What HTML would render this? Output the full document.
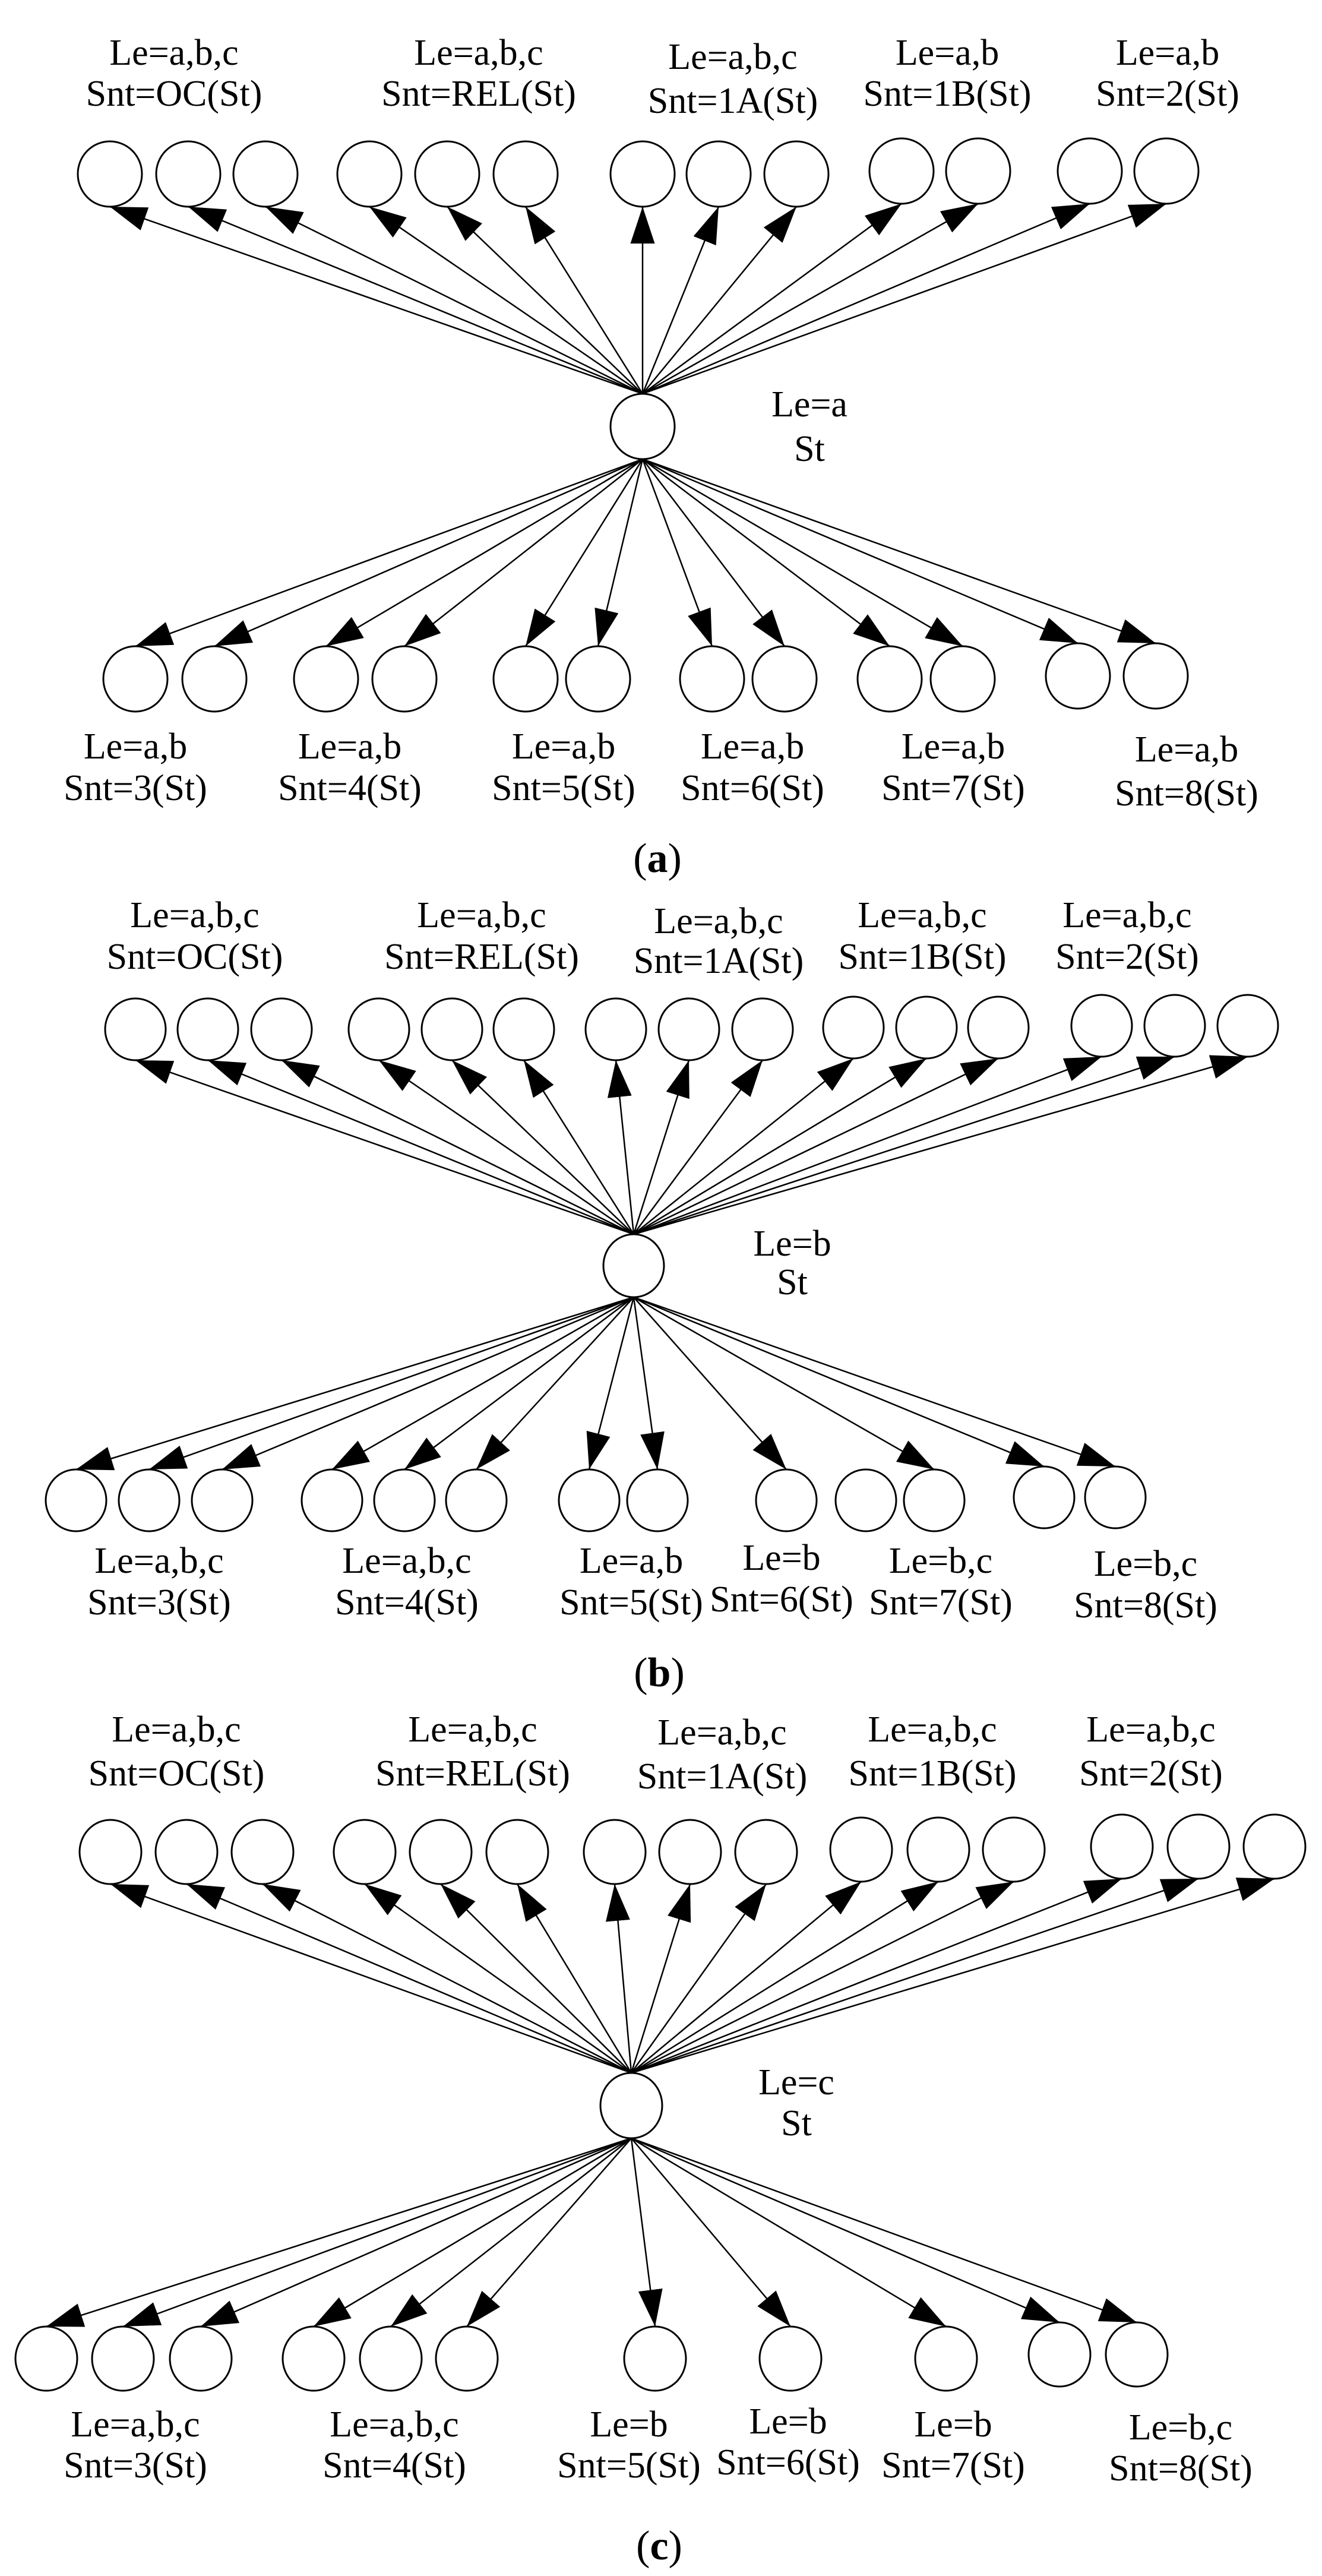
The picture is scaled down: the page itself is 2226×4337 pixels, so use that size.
<!DOCTYPE html>
<html><head><meta charset="utf-8"><style>
html,body{margin:0;padding:0;background:#fff;}
svg{display:block;}
text{font-family:"Liberation Serif",serif;font-size:62px;fill:#000;text-anchor:middle;}
</style></head><body>
<svg width="2226" height="4337" viewBox="0 0 2226 4337" xmlns="http://www.w3.org/2000/svg">
<defs>
<marker id="ar" markerUnits="userSpaceOnUse" markerWidth="64" markerHeight="42" refX="62" refY="20.5" orient="auto">
<path d="M0,0 L62,20.5 L0,41 z" fill="#000"/>
</marker>
</defs>
<g fill="#fff" stroke="#000" stroke-width="3">
<!-- panel a -->
<ellipse cx="185" cy="293" rx="54" ry="55"/><ellipse cx="317" cy="293" rx="54" ry="55"/><ellipse cx="447" cy="293" rx="54" ry="55"/>
<ellipse cx="622" cy="293" rx="54" ry="55"/><ellipse cx="753" cy="293" rx="54" ry="55"/><ellipse cx="885" cy="293" rx="54" ry="55"/>
<ellipse cx="1082" cy="293" rx="54" ry="55"/><ellipse cx="1210" cy="293" rx="54" ry="55"/><ellipse cx="1341" cy="293" rx="54" ry="55"/>
<ellipse cx="1518" cy="288" rx="54" ry="55"/><ellipse cx="1647" cy="288" rx="54" ry="55"/>
<ellipse cx="1835" cy="288" rx="54" ry="55"/><ellipse cx="1964" cy="288" rx="54" ry="55"/>
<ellipse cx="1082" cy="718" rx="54" ry="55"/>
<ellipse cx="228" cy="1143" rx="54" ry="55"/><ellipse cx="361" cy="1143" rx="54" ry="55"/>
<ellipse cx="549" cy="1143" rx="54" ry="55"/><ellipse cx="681" cy="1143" rx="54" ry="55"/>
<ellipse cx="885" cy="1143" rx="54" ry="55"/><ellipse cx="1007" cy="1143" rx="54" ry="55"/>
<ellipse cx="1199" cy="1143" rx="54" ry="55"/><ellipse cx="1321" cy="1143" rx="54" ry="55"/>
<ellipse cx="1498" cy="1143" rx="54" ry="55"/><ellipse cx="1621" cy="1143" rx="54" ry="55"/>
<ellipse cx="1815" cy="1138" rx="54" ry="55"/><ellipse cx="1946" cy="1138" rx="54" ry="55"/>
<!-- panel b -->
<ellipse cx="228" cy="1733" rx="51" ry="52"/><ellipse cx="350" cy="1733" rx="51" ry="52"/><ellipse cx="474" cy="1733" rx="51" ry="52"/>
<ellipse cx="638" cy="1733" rx="51" ry="52"/><ellipse cx="761" cy="1733" rx="51" ry="52"/><ellipse cx="882" cy="1733" rx="51" ry="52"/>
<ellipse cx="1037" cy="1733" rx="51" ry="52"/><ellipse cx="1160" cy="1733" rx="51" ry="52"/><ellipse cx="1284" cy="1733" rx="51" ry="52"/>
<ellipse cx="1437" cy="1730" rx="51" ry="52"/><ellipse cx="1560" cy="1730" rx="51" ry="52"/><ellipse cx="1681" cy="1730" rx="51" ry="52"/>
<ellipse cx="1855" cy="1727" rx="51" ry="52"/><ellipse cx="1978" cy="1727" rx="51" ry="52"/><ellipse cx="2101" cy="1727" rx="51" ry="52"/>
<ellipse cx="1067" cy="2131" rx="51" ry="53"/>
<ellipse cx="128" cy="2526" rx="51" ry="52"/><ellipse cx="251" cy="2526" rx="51" ry="52"/><ellipse cx="374" cy="2526" rx="51" ry="52"/>
<ellipse cx="559" cy="2526" rx="51" ry="52"/><ellipse cx="681" cy="2526" rx="51" ry="52"/><ellipse cx="802" cy="2526" rx="51" ry="52"/>
<ellipse cx="992" cy="2526" rx="51" ry="52"/><ellipse cx="1107" cy="2526" rx="51" ry="52"/>
<ellipse cx="1324" cy="2526" rx="51" ry="52"/>
<ellipse cx="1458" cy="2526" rx="51" ry="52"/><ellipse cx="1573" cy="2526" rx="51" ry="52"/>
<ellipse cx="1758" cy="2521" rx="51" ry="52"/><ellipse cx="1878" cy="2521" rx="51" ry="52"/>
<!-- panel c -->
<ellipse cx="186" cy="3118" rx="52" ry="54"/><ellipse cx="314" cy="3118" rx="52" ry="54"/><ellipse cx="442" cy="3118" rx="52" ry="54"/>
<ellipse cx="614" cy="3118" rx="52" ry="54"/><ellipse cx="742" cy="3118" rx="52" ry="54"/><ellipse cx="871" cy="3118" rx="52" ry="54"/>
<ellipse cx="1035" cy="3118" rx="52" ry="54"/><ellipse cx="1162" cy="3118" rx="52" ry="54"/><ellipse cx="1290" cy="3118" rx="52" ry="54"/>
<ellipse cx="1450" cy="3114" rx="52" ry="54"/><ellipse cx="1580" cy="3114" rx="52" ry="54"/><ellipse cx="1707" cy="3114" rx="52" ry="54"/>
<ellipse cx="1889" cy="3109" rx="52" ry="54"/><ellipse cx="2018" cy="3109" rx="52" ry="54"/><ellipse cx="2146" cy="3109" rx="52" ry="54"/>
<ellipse cx="1063" cy="3545" rx="52" ry="55"/>
<ellipse cx="78" cy="3971" rx="52" ry="54"/><ellipse cx="207" cy="3971" rx="52" ry="54"/><ellipse cx="338" cy="3971" rx="52" ry="54"/>
<ellipse cx="528" cy="3971" rx="52" ry="54"/><ellipse cx="658" cy="3971" rx="52" ry="54"/><ellipse cx="786" cy="3971" rx="52" ry="54"/>
<ellipse cx="1103" cy="3971" rx="52" ry="54"/><ellipse cx="1331" cy="3971" rx="52" ry="54"/><ellipse cx="1593" cy="3971" rx="52" ry="54"/>
<ellipse cx="1784" cy="3964" rx="52" ry="54"/><ellipse cx="1914" cy="3964" rx="52" ry="54"/>
</g>
<g stroke="#000" stroke-width="2.5" marker-end="url(#ar)">
<!-- a top -->
<line x1="1082" y1="663" x2="185" y2="348"/><line x1="1082" y1="663" x2="317" y2="348"/><line x1="1082" y1="663" x2="447" y2="348"/>
<line x1="1082" y1="663" x2="622" y2="348"/><line x1="1082" y1="663" x2="753" y2="348"/><line x1="1082" y1="663" x2="885" y2="348"/>
<line x1="1082" y1="663" x2="1082" y2="348"/><line x1="1082" y1="663" x2="1210" y2="348"/><line x1="1082" y1="663" x2="1341" y2="348"/>
<line x1="1082" y1="663" x2="1518" y2="343"/><line x1="1082" y1="663" x2="1647" y2="343"/>
<line x1="1082" y1="663" x2="1835" y2="343"/><line x1="1082" y1="663" x2="1964" y2="343"/>
<!-- a bottom -->
<line x1="1082" y1="773" x2="228" y2="1088"/><line x1="1082" y1="773" x2="361" y2="1088"/>
<line x1="1082" y1="773" x2="549" y2="1088"/><line x1="1082" y1="773" x2="681" y2="1088"/>
<line x1="1082" y1="773" x2="885" y2="1088"/><line x1="1082" y1="773" x2="1007" y2="1088"/>
<line x1="1082" y1="773" x2="1199" y2="1088"/><line x1="1082" y1="773" x2="1321" y2="1088"/>
<line x1="1082" y1="773" x2="1498" y2="1088"/><line x1="1082" y1="773" x2="1621" y2="1088"/>
<line x1="1082" y1="773" x2="1815" y2="1083"/><line x1="1082" y1="773" x2="1946" y2="1083"/>
<!-- b top -->
<line x1="1067" y1="2078" x2="228" y2="1785"/><line x1="1067" y1="2078" x2="350" y2="1785"/><line x1="1067" y1="2078" x2="474" y2="1785"/>
<line x1="1067" y1="2078" x2="638" y2="1785"/><line x1="1067" y1="2078" x2="761" y2="1785"/><line x1="1067" y1="2078" x2="882" y2="1785"/>
<line x1="1067" y1="2078" x2="1037" y2="1785"/><line x1="1067" y1="2078" x2="1160" y2="1785"/><line x1="1067" y1="2078" x2="1284" y2="1785"/>
<line x1="1067" y1="2078" x2="1437" y2="1782"/><line x1="1067" y1="2078" x2="1560" y2="1782"/><line x1="1067" y1="2078" x2="1681" y2="1782"/>
<line x1="1067" y1="2078" x2="1855" y2="1779"/><line x1="1067" y1="2078" x2="1978" y2="1779"/><line x1="1067" y1="2078" x2="2101" y2="1779"/>
<!-- b bottom -->
<line x1="1067" y1="2184" x2="128" y2="2474"/><line x1="1067" y1="2184" x2="251" y2="2474"/><line x1="1067" y1="2184" x2="374" y2="2474"/>
<line x1="1067" y1="2184" x2="559" y2="2474"/><line x1="1067" y1="2184" x2="681" y2="2474"/><line x1="1067" y1="2184" x2="802" y2="2474"/>
<line x1="1067" y1="2184" x2="992" y2="2474"/><line x1="1067" y1="2184" x2="1107" y2="2474"/>
<line x1="1067" y1="2184" x2="1324" y2="2474"/><line x1="1067" y1="2184" x2="1573" y2="2474"/>
<line x1="1067" y1="2184" x2="1758" y2="2469"/><line x1="1067" y1="2184" x2="1878" y2="2469"/>
<!-- c top -->
<line x1="1063" y1="3490" x2="186" y2="3172"/><line x1="1063" y1="3490" x2="314" y2="3172"/><line x1="1063" y1="3490" x2="442" y2="3172"/>
<line x1="1063" y1="3490" x2="614" y2="3172"/><line x1="1063" y1="3490" x2="742" y2="3172"/><line x1="1063" y1="3490" x2="871" y2="3172"/>
<line x1="1063" y1="3490" x2="1035" y2="3172"/><line x1="1063" y1="3490" x2="1162" y2="3172"/><line x1="1063" y1="3490" x2="1290" y2="3172"/>
<line x1="1063" y1="3490" x2="1450" y2="3168"/><line x1="1063" y1="3490" x2="1580" y2="3168"/><line x1="1063" y1="3490" x2="1707" y2="3168"/>
<line x1="1063" y1="3490" x2="1889" y2="3163"/><line x1="1063" y1="3490" x2="2018" y2="3163"/><line x1="1063" y1="3490" x2="2146" y2="3163"/>
<!-- c bottom -->
<line x1="1063" y1="3600" x2="78" y2="3917"/><line x1="1063" y1="3600" x2="207" y2="3917"/><line x1="1063" y1="3600" x2="338" y2="3917"/>
<line x1="1063" y1="3600" x2="528" y2="3917"/><line x1="1063" y1="3600" x2="658" y2="3917"/><line x1="1063" y1="3600" x2="786" y2="3917"/>
<line x1="1063" y1="3600" x2="1103" y2="3917"/><line x1="1063" y1="3600" x2="1331" y2="3917"/><line x1="1063" y1="3600" x2="1593" y2="3917"/>
<line x1="1063" y1="3600" x2="1784" y2="3910"/><line x1="1063" y1="3600" x2="1914" y2="3910"/>
</g>
<!-- panel a text -->
<text x="293" y="109">Le=a,b,c</text><text x="293" y="178">Snt=OC(St)</text>
<text x="806" y="109">Le=a,b,c</text><text x="806" y="178">Snt=REL(St)</text>
<text x="1234" y="116">Le=a,b,c</text><text x="1234" y="190">Snt=1A(St)</text>
<text x="1595" y="109">Le=a,b</text><text x="1595" y="178">Snt=1B(St)</text>
<text x="1966" y="109">Le=a,b</text><text x="1966" y="178">Snt=2(St)</text>
<text x="1363" y="701">Le=a</text><text x="1363" y="776">St</text>
<text x="228" y="1277">Le=a,b</text><text x="228" y="1347">Snt=3(St)</text>
<text x="589" y="1277">Le=a,b</text><text x="589" y="1347">Snt=4(St)</text>
<text x="949" y="1277">Le=a,b</text><text x="949" y="1347">Snt=5(St)</text>
<text x="1267" y="1277">Le=a,b</text><text x="1267" y="1347">Snt=6(St)</text>
<text x="1605" y="1277">Le=a,b</text><text x="1605" y="1347">Snt=7(St)</text>
<text x="1998" y="1282">Le=a,b</text><text x="1998" y="1356">Snt=8(St)</text>
<text x="1107" y="1468" style="font-size:70px">(<tspan font-weight="bold">a</tspan>)</text>
<!-- panel b text -->
<text x="328" y="1561">Le=a,b,c</text><text x="328" y="1631">Snt=OC(St)</text>
<text x="811" y="1561">Le=a,b,c</text><text x="811" y="1631">Snt=REL(St)</text>
<text x="1210" y="1571">Le=a,b,c</text><text x="1210" y="1638">Snt=1A(St)</text>
<text x="1553" y="1561">Le=a,b,c</text><text x="1553" y="1631">Snt=1B(St)</text>
<text x="1898" y="1561">Le=a,b,c</text><text x="1898" y="1631">Snt=2(St)</text>
<text x="1334" y="2114">Le=b</text><text x="1334" y="2179">St</text>
<text x="268" y="2648">Le=a,b,c</text><text x="268" y="2718">Snt=3(St)</text>
<text x="685" y="2648">Le=a,b,c</text><text x="685" y="2718">Snt=4(St)</text>
<text x="1063" y="2648">Le=a,b</text><text x="1063" y="2718">Snt=5(St)</text>
<text x="1316" y="2643">Le=b</text><text x="1316" y="2713">Snt=6(St)</text>
<text x="1584" y="2648">Le=b,c</text><text x="1584" y="2718">Snt=7(St)</text>
<text x="1929" y="2653">Le=b,c</text><text x="1929" y="2723">Snt=8(St)</text>
<text x="1110" y="2839" style="font-size:70px">(<tspan font-weight="bold">b</tspan>)</text>
<!-- panel c text -->
<text x="297" y="2932">Le=a,b,c</text><text x="297" y="3006">Snt=OC(St)</text>
<text x="796" y="2932">Le=a,b,c</text><text x="796" y="3006">Snt=REL(St)</text>
<text x="1216" y="2937">Le=a,b,c</text><text x="1216" y="3011">Snt=1A(St)</text>
<text x="1570" y="2932">Le=a,b,c</text><text x="1570" y="3006">Snt=1B(St)</text>
<text x="1938" y="2932">Le=a,b,c</text><text x="1938" y="3006">Snt=2(St)</text>
<text x="1341" y="3526">Le=c</text><text x="1341" y="3595">St</text>
<text x="228" y="4102">Le=a,b,c</text><text x="228" y="4171">Snt=3(St)</text>
<text x="664" y="4102">Le=a,b,c</text><text x="664" y="4171">Snt=4(St)</text>
<text x="1059" y="4102">Le=b</text><text x="1059" y="4171">Snt=5(St)</text>
<text x="1327" y="4097">Le=b</text><text x="1327" y="4166">Snt=6(St)</text>
<text x="1605" y="4102">Le=b</text><text x="1605" y="4171">Snt=7(St)</text>
<text x="1988" y="4107">Le=b,c</text><text x="1988" y="4176">Snt=8(St)</text>
<text x="1110" y="4309" style="font-size:70px">(<tspan font-weight="bold">c</tspan>)</text>
</svg>
</body></html>
